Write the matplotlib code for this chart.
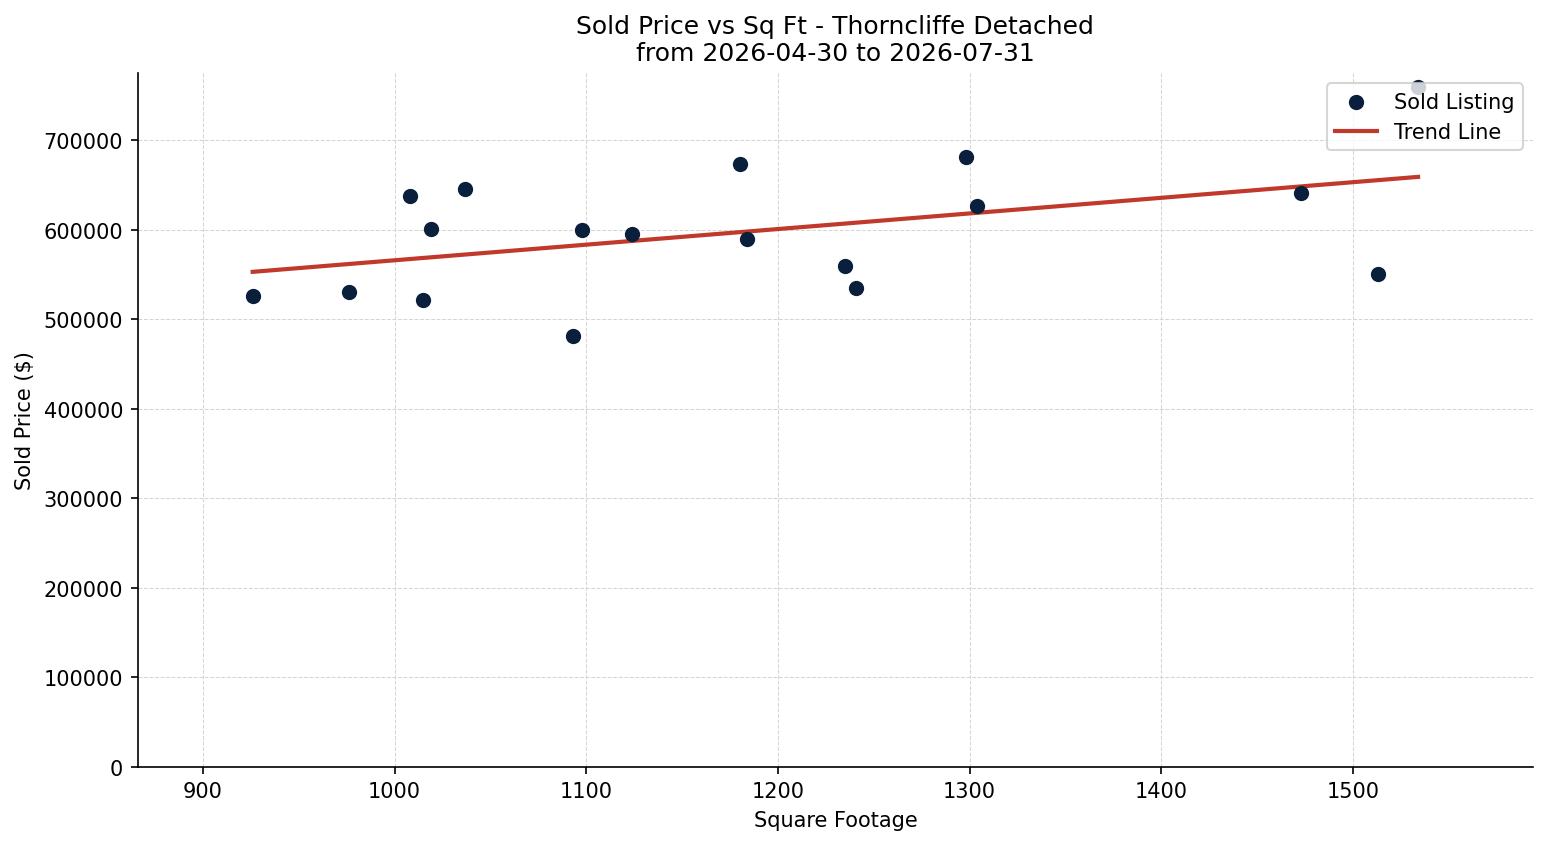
import numpy as np
import matplotlib
matplotlib.use("Agg")
import matplotlib.pyplot as plt

# sold listings
sqft = [926, 976, 1008, 1015, 1019, 1037, 1093, 1098, 1124, 1180,
        1184, 1235, 1241, 1298, 1304, 1473, 1513, 1534]
price = [526000, 530000, 638000, 522000, 601000, 645000, 481000, 600000, 595000, 673000,
         590000, 560000, 535000, 681000, 626000, 641000, 550000, 760000]

title = "Sold Price vs Sq Ft - Thorncliffe Detached\nfrom 2026-04-30 to 2026-07-31"

x = np.array(sqft, dtype=float)
y = np.array(price, dtype=float)
slope, intercept = np.polyfit(x, y, 1)
xs = np.array([x.min(), x.max()])

fig, ax = plt.subplots(figsize=(15.47 / 1.5, 8.45 / 1.5), dpi=150)
ax.scatter(x, y, s=40, color="#0a1f3c", label="Sold Listing", zorder=3)
ax.plot(xs, slope * xs + intercept, color="#c0392b", lw=2, label="Trend Line", zorder=2)

ax.set_xlim(x.min() - 60, x.max() + 60)
ax.set_ylim(0, y.max() * 1.02)
ax.set_title(title, fontsize=12)
ax.set_xlabel("Square Footage")
ax.set_ylabel("Sold Price ($)")
ax.grid(True, linestyle="--", linewidth=0.5, color="#d5d5d5")
ax.set_axisbelow(True)
ax.spines["top"].set_visible(False)
ax.spines["right"].set_visible(False)
ax.legend(loc="upper right", fontsize=10)

fig.subplots_adjust(left=0.089, right=0.991, top=0.9125, bottom=0.0915)
fig.savefig("out.png", dpi=150)
